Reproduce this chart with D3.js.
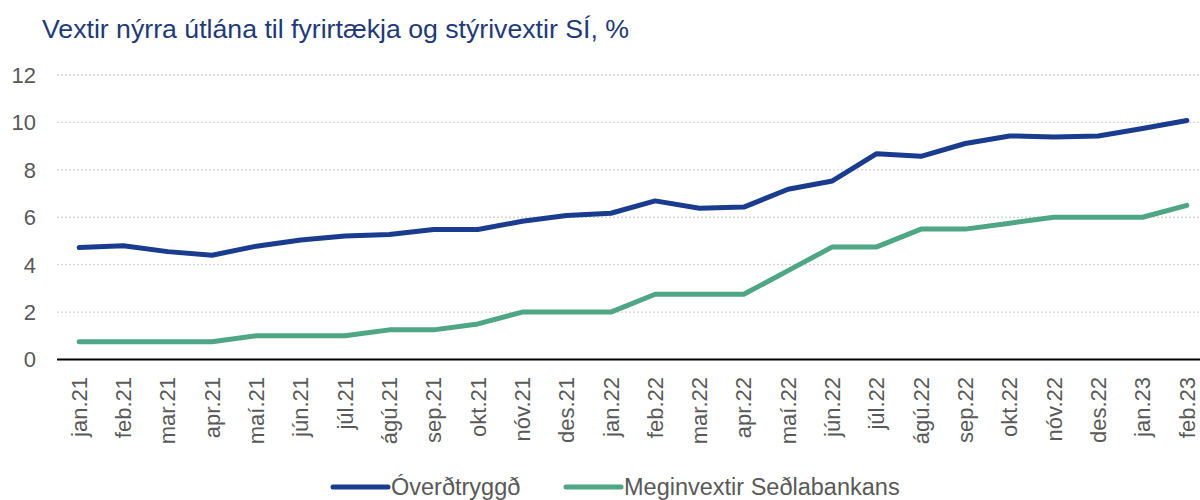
<!DOCTYPE html>
<html>
<head>
<meta charset="utf-8">
<title>Vextir</title>
<script src="https://cdn.jsdelivr.net/npm/d3@7"></script>
<style>
  body { margin: 0; background: #fff; }
  svg { display: block; font-family: "Liberation Sans", Arial, sans-serif; }
  .grid line { stroke: #d4d4d4; stroke-width: 1.3; stroke-dasharray: 2,2; }
  .ylab text, .xlab text { fill: #595959; }
</style>
</head>
<body>
<svg id="chart" width="1200" height="500"></svg>
<script>
// months, Jan 2021 - Feb 2023
var months = ['jan.21','feb.21','mar.21','apr.21','maí.21','jún.21','júl.21','ágú.21','sep.21','okt.21','nóv.21','des.21',
              'jan.22','feb.22','mar.22','apr.22','maí.22','jún.22','júl.22','ágú.22','sep.22','okt.22','nóv.22','des.22',
              'jan.23','feb.23'];

// óverðtryggð útlán til fyrirtækja
var overdtryggd = [4.72, 4.80, 4.55, 4.40, 4.78, 5.04, 5.21, 5.27, 5.48, 5.48, 5.83, 6.07,
                   6.17, 6.69, 6.38, 6.43, 7.18, 7.53, 8.68, 8.57, 9.11, 9.43, 9.39, 9.43,
                   9.74, 10.08];

// meginvextir Seðlabankans
var meginvextir = [0.75, 0.75, 0.75, 0.75, 1.0, 1.0, 1.0, 1.25, 1.25, 1.5, 2.0, 2.0,
                   2.0, 2.75, 2.75, 2.75, 3.75, 4.75, 4.75, 5.5, 5.5, 5.75, 6.0, 6.0,
                   6.0, 6.5];

var yTicks = [0, 2, 4, 6, 8, 10, 12];

var series = [
  { name: 'Óverðtryggð', values: overdtryggd, color: '#1a3c8e' },
  { name: 'Meginvextir Seðlabankans', values: meginvextir, color: '#4ea685' }
];

var svg = d3.select('#chart');

var x = d3.scaleBand().domain(months).range([57, 1209]);
var y = d3.scaleLinear().domain([0, 12]).range([359.5, 75]);

svg.append('text')
   .attr('x', 42).attr('y', 38)
   .attr('font-size', 26)
   .attr('fill', '#1f3a78')
   .attr('textLength', 587)
   .attr('lengthAdjust', 'spacingAndGlyphs')
   .text('Vextir nýrra útlána til fyrirtækja og stýrivextir SÍ, %');

// dotted grid
svg.append('g').attr('class', 'grid')
   .selectAll('line')
   .data(yTicks.filter(function(d) { return d > 0; }))
   .enter().append('line')
   .attr('x1', 57).attr('x2', 1200)
   .attr('y1', function(d) { return y(d); })
   .attr('y2', function(d) { return y(d); });

// y labels
svg.append('g').attr('class', 'ylab')
   .selectAll('text')
   .data(yTicks)
   .enter().append('text')
   .attr('x', 36)
   .attr('y', function(d) { return y(d); })
   .attr('dy', '0.36em')
   .attr('text-anchor', 'end')
   .attr('font-size', 22)
   .text(function(d) { return d; });

// x axis line
svg.append('line')
   .attr('x1', 57).attr('x2', 1200)
   .attr('y1', y(0)).attr('y2', y(0))
   .attr('stroke', '#000').attr('stroke-width', 2);

// x labels, rotated
svg.append('g').attr('class', 'xlab')
   .selectAll('text')
   .data(months)
   .enter().append('text')
   .attr('transform', function(d) {
     return 'translate(' + (x(d) + x.bandwidth() / 2) + ',377) rotate(-90)';
   })
   .attr('dy', '0.35em')
   .attr('text-anchor', 'end')
   .attr('font-size', 22)
   .text(function(d) { return d; });

var line = d3.line()
  .x(function(d, i) { return x(months[i]) + x.bandwidth() / 2; })
  .y(function(d) { return y(d); });

svg.append('g').selectAll('path')
   .data(series)
   .enter().append('path')
   .attr('d', function(s) { return line(s.values); })
   .attr('fill', 'none')
   .attr('stroke', function(s) { return s.color; })
   .attr('stroke-width', 5)
   .attr('stroke-linejoin', 'round')
   .attr('stroke-linecap', 'round');

// legend
var legendPos = [333, 566];
var lg = svg.append('g').selectAll('g')
   .data(series)
   .enter().append('g')
   .attr('transform', function(s, i) { return 'translate(' + legendPos[i] + ',487)'; });

lg.append('line')
  .attr('x1', 0).attr('x2', 55)
  .attr('stroke', function(s) { return s.color; })
  .attr('stroke-width', 5)
  .attr('stroke-linecap', 'round');

lg.append('text')
  .attr('x', 58)
  .attr('dy', '0.35em')
  .attr('font-size', 23.5)
  .attr('fill', '#595959')
  .text(function(s) { return s.name; });
</script>
</body>
</html>
